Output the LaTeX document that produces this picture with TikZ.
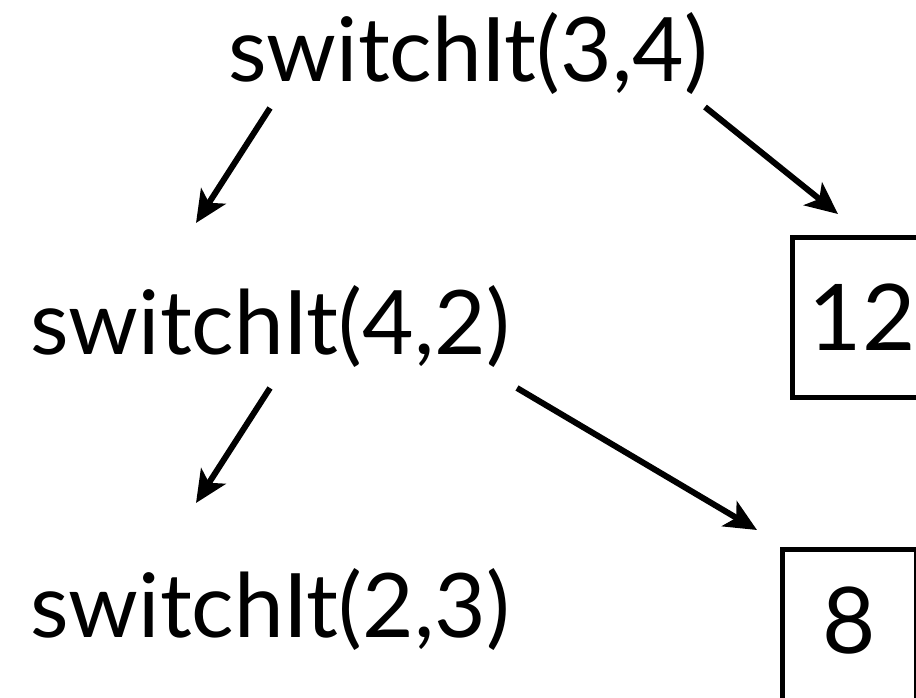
\documentclass[tikz,border=0pt]{standalone}
\usepackage{fontspec}
\setmainfont{Lato}
\usetikzlibrary{arrows.meta}

\begin{document}
\begin{tikzpicture}[
  x=1pt, y=-1pt,
  call/.style={inner sep=0pt, anchor=base, font=\fontsize{89}{104}\selectfont},
  result/.style={draw, line width=4.5pt, inner sep=0pt, anchor=north west,
    font=\fontsize{92}{108}\selectfont},
  arrow/.style={-{Stealth[length=32pt, width=29pt, inset=8pt]}, line width=6pt}
]
\useasboundingbox (0,0) rectangle (916,697);

\node[call] (top) at (468,81) {switchIt(3,4)};
\node[call] (mid) at (270,354) {switchIt(4,2)};
\node[call] (bot) at (270,637) {switchIt(2,3)};
\node[result, minimum width=140pt, minimum height=160pt] (twelve) at (790,235) {12};
\node[result, minimum width=134pt, minimum height=170pt,
  text height=67pt, text depth=28pt] (eight) at (780,547) {8};

\draw[arrow] ([shift={(-198,27)}]top.base) -- ([shift={(-74,-131)}]mid.base);
\draw[arrow] ([shift={(237,26)}]top.base) -- ([shift={(48,-21)}]twelve.north west);
\draw[arrow] ([shift={(0,34)}]mid.base) -- ([shift={(-74,-134)}]bot.base);
\draw[arrow] ([shift={(247,34)}]mid.base) -- ([shift={(-23,-17)}]eight.north west);
\end{tikzpicture}
\end{document}
